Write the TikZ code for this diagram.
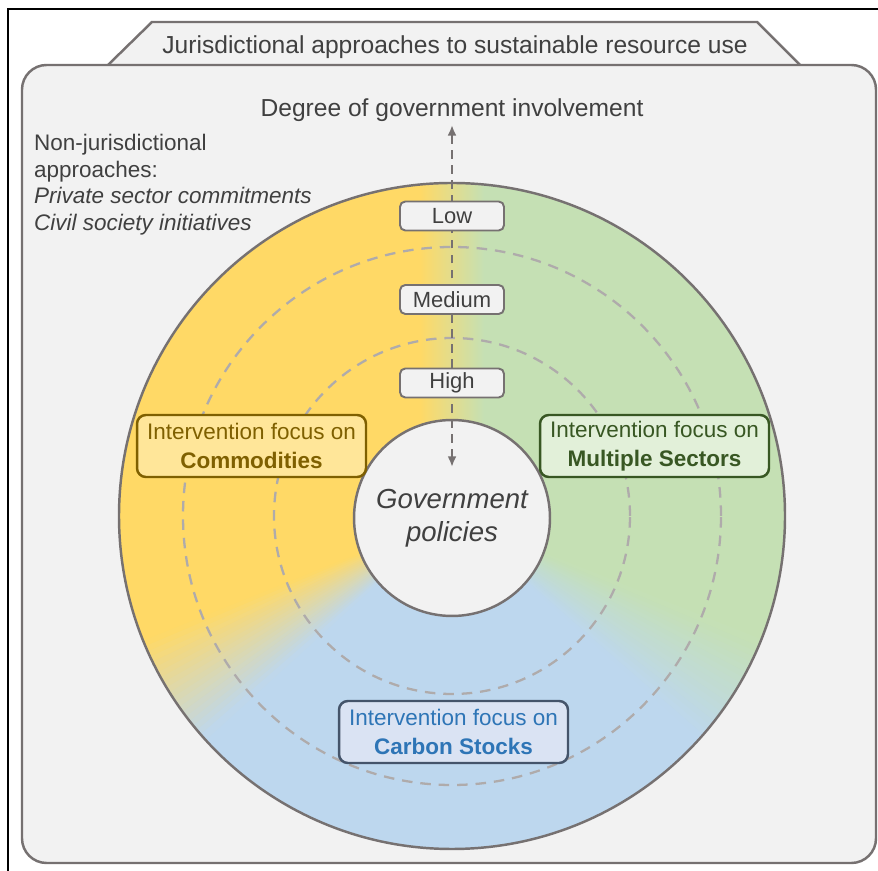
\documentclass[tikz,border=0pt]{standalone}
\usepackage{fontspec}
\setmainfont{Liberation Sans}
\usepackage{tikz}
\usepackage{xcolor}
\usetikzlibrary{
    positioning,
    arrows.meta     % For the Latex tips on the axis
}

\definecolor{panelgray}{HTML}{F2F2F2}
\definecolor{edgegray}{HTML}{767171}
\definecolor{dashgray}{HTML}{AFABAB}
\definecolor{textgray}{HTML}{404040}
\definecolor{commyellow}{HTML}{FFD966}
\definecolor{sectgreen}{HTML}{C5E0B4}
\definecolor{carbblue}{HTML}{BDD7EE}
\definecolor{commdark}{HTML}{7F6000}
\definecolor{commlight}{HTML}{FFE699}
\definecolor{sectdark}{HTML}{385723}
\definecolor{sectlight}{HTML}{E2F0D9}
\definecolor{carbdark}{HTML}{44546A}
\definecolor{carblight}{HTML}{DAE3F3}
\definecolor{carbtext}{HTML}{2E75B6}

\begin{document}
\begin{tikzpicture}[
    x=0.02cm, y=0.02cm,
    panel/.style={draw=edgegray, fill=panelgray, line width=1.4pt},
    heading/.style={text=textgray, font=\fontsize{14}{17}\selectfont},
    lvlbox/.style={rectangle, rounded corners=3pt, draw=edgegray, fill=panelgray, line width=1.1pt, minimum width=2.08cm, minimum height=0.58cm, inner sep=0pt, text=textgray, font=\fontsize{12.5}{15}\selectfont},
    focusbox/.style={rectangle, rounded corners=5pt, line width=1.4pt, minimum width=4.58cm, minimum height=1.24cm, inner sep=0pt, align=center, font=\fontsize{12.8}{16.2}\selectfont},
    commodity/.style={focusbox, draw=commdark, fill=commlight, text=commdark},
    sectors/.style={focusbox, draw=sectdark, fill=sectlight, text=sectdark},
    carbon/.style={focusbox, draw=carbdark, fill=carblight, text=carbtext},
    ring/.style={dashgray, line width=1.3pt, dash pattern=on 6pt off 4.5pt},
    govcircle/.style={circle, draw=edgegray, fill=panelgray, line width=1.4pt, minimum size=3.92cm, inner sep=0pt, align=center, text=textgray, font=\fontsize{15.7}{18.8}\selectfont\itshape},
    axis/.style={{Latex[length=6pt,width=5pt]}-{Latex[length=6pt,width=5pt]}, edgegray, line width=1.3pt, dash pattern=on 5pt off 3.5pt}
]
    \useasboundingbox (0,0) rectangle (878,871);

    % Outer frame
    \draw[black, line width=0.9pt] (8,0) -- (8,862) -- (878,862);

    % Title tab and main panel
    \draw[panel] (108,806) -- (152,849) -- (757,849) -- (800,806);
    \draw[panel, rounded corners=14pt] (22,8) rectangle (876,806);
    \node[heading] (title) at (455,824) {Jurisdictional approaches to sustainable resource use};
    \node[heading] (degree) at (452,761) {Degree of government involvement};

    % Non-jurisdictional approaches
    \node[anchor=north west, align=left, text=textgray, font=\fontsize{12.8}{15.1}\selectfont] (nonjur) at (28,743)
        {Non-jurisdictional\\approaches:\\\textit{Private sector commitments}\\\textit{Civil society initiatives}};

    % Coloured ring with soft seams
    \coordinate (c) at (452,355);
    \begin{scope}
        \clip (c) circle[radius=333];
        \fill[commyellow] (c) -- ++(90:400) arc[start angle=90, end angle=212, radius=400] -- cycle;
        \fill[carbblue] (c) -- ++(212:400) arc[start angle=212, end angle=328, radius=400] -- cycle;
        \fill[sectgreen] (c) -- ++(-32:400) arc[start angle=-32, end angle=90, radius=400] -- cycle;
        \shade[left color=commyellow, right color=sectgreen] (420,355) rectangle (484,700);
        \foreach \ang/\ca/\cb in {212/commyellow/carbblue, 328/carbblue/sectgreen} {
            \foreach \i in {0,...,19} {
                \pgfmathsetmacro\s{\ang-10+\i}
                \pgfmathsetmacro\e{\s+1.3}
                \pgfmathsetmacro\p{100*(\i+0.5)/20}
                \fill[\cb!\p!\ca] (c) -- ++(\s:400) arc[start angle=\s, end angle=\e, radius=400] -- cycle;
            }
        }
    \end{scope}

    % Dashed levels
    \draw[ring] (c) circle[radius=269];
    \draw[ring] (c) circle[radius=178];
    \draw[edgegray, line width=1.4pt] (c) circle[radius=333];

    % Centre
    \node[govcircle] (gov) at (452,353) {Government\\policies};

    % Axis of involvement
    \coordinate (up) at (452,746);
    \coordinate (down) at (452,404);
    \draw[axis] (down) -- (up);

    \node[lvlbox] (low) at (452,655) {Low};
    \node[lvlbox] (medium) at (452,571.5) {Medium};
    \node[lvlbox] (high) at (452,488) {High};

    % Intervention foci
    \node[commodity] (comm) at (251.5,425) {Intervention focus on\\\textbf{Commodities}};
    \node[sectors] (sect) at (654.5,425) {Intervention focus on\\\textbf{Multiple Sectors}};
    \node[carbon] (carb) at (453.5,139) {Intervention focus on\\\textbf{Carbon Stocks}};

\end{tikzpicture}
\end{document}
